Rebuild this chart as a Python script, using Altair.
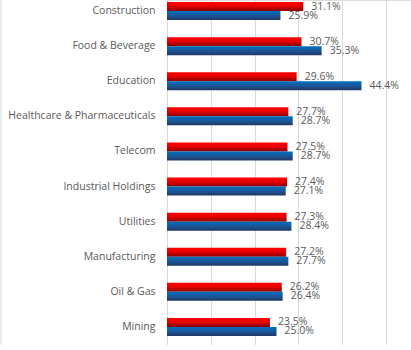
import altair as alt
import pandas as pd

categories = ["Construction", "Food & Beverage", "Education", "Healthcare & Pharmaceuticals",
              "Telecom", "Industrial Holdings", "Utilities", "Manufacturing", "Oil & Gas", "Mining"]
series_red = [31.1, 30.7, 29.6, 27.7, 27.5, 27.4, 27.3, 27.2, 26.2, 23.5]
series_blue = [25.9, 35.3, 44.4, 28.7, 28.7, 27.1, 28.4, 27.7, 26.4, 25.0]
series_names = ["Red", "Blue"]

rows = []
for c, r, b in zip(categories, series_red, series_blue):
    rows.append({"category": c, "series": "Red", "value": r, "label": f"{r:.1f}%"})
    rows.append({"category": c, "series": "Blue", "value": b, "label": f"{b:.1f}%"})
df = pd.DataFrame(rows)

red_grad = alt.Gradient(gradient="linear", x1=0, y1=0, x2=0, y2=1,
                        stops=[alt.GradientStop(color="#FF0000", offset=0),
                               alt.GradientStop(color="#E80000", offset=0.45),
                               alt.GradientStop(color="#850000", offset=1)])
blue_grad = alt.Gradient(gradient="linear", x1=0, y1=0, x2=0, y2=1,
                         stops=[alt.GradientStop(color="#0070C0", offset=0),
                                alt.GradientStop(color="#1A5699", offset=0.5),
                                alt.GradientStop(color="#203864", offset=1)])

y_enc = alt.Y("category:N", sort=categories,
              scale=alt.Scale(range=[-6.5, 344.5], paddingInner=0, paddingOuter=0),
              axis=alt.Axis(title=None, ticks=False, domain=True, domainColor="#D9D9D9",
                            labelPadding=12, labelFont="Open Sans", labelFontSize=10.5,
                            labelColor="#595959", grid=False))
x_enc = alt.X("value:Q", scale=alt.Scale(domain=[0, 55.7], nice=False),
              axis=alt.Axis(title=None, labels=False, ticks=False, domain=False,
                            grid=True, gridColor="#D9D9D9", values=[0, 10, 20, 30, 40, 50]))
yoff = alt.YOffset("series:N", sort=series_names,
                   scale=alt.Scale(domain=series_names, paddingInner=0, paddingOuter=0.95))

base = alt.Chart(df)
layers = []
for name, grad in [("Red", red_grad), ("Blue", blue_grad)]:
    sub = base.transform_filter(alt.datum.series == name)
    layers.append(sub.mark_bar(color=grad).encode(y=y_enc, x=x_enc, yOffset=yoff))
    layers.append(sub.mark_text(align="left", baseline="middle", dx=8, font="Open Sans",
                                fontSize=10.5, color="#595959")
                  .encode(y=y_enc, x=x_enc, yOffset=yoff, text="label:N"))

border = alt.Chart(pd.DataFrame({"v": [0]})).mark_rule(color="#D9D9D9").encode(
    x=alt.value(-166), y=alt.value(-10), y2=alt.value(360))

chart = alt.layer(*layers, border).properties(
    width=244, height=345,
    autosize=alt.AutoSizeParams(type="none"),
    padding={"left": 167, "top": 0, "right": 0, "bottom": 0},
).configure_view(stroke=None).configure(background="white")

chart.save("out.html", embed_options={"renderer": "svg", "actions": False})
